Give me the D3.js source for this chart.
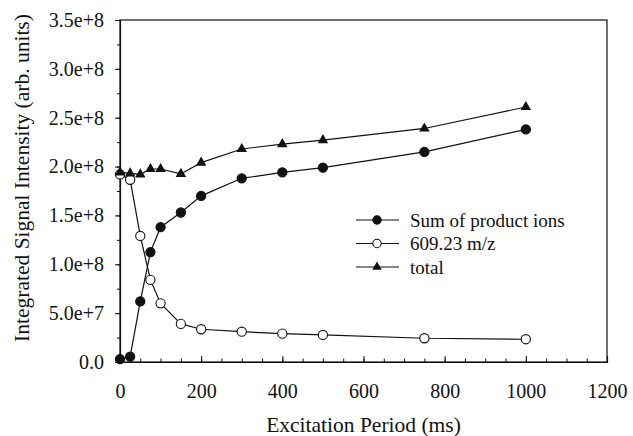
<!DOCTYPE html>
<html>
<head>
<meta charset="utf-8">
<script src="https://cdn.jsdelivr.net/npm/d3@7"></script>
<style>
  html, body { margin: 0; padding: 0; background: #fff; }
</style>
</head>
<body>
<svg id="chart" width="633" height="436"></svg>
<script>
const excitationMs = [0, 25, 50, 75, 100, 150, 200, 300, 400, 500, 750, 1000];
const sumProductIons = [3e6, 5.5e6, 6.2e7, 1.125e8, 1.38e8, 1.53e8, 1.70e8, 1.88e8, 1.94e8, 1.99e8, 2.15e8, 2.38e8];
const parent609 = [1.92e8, 1.865e8, 1.29e8, 8.4e7, 6.0e7, 3.9e7, 3.35e7, 3.1e7, 2.9e7, 2.77e7, 2.43e7, 2.33e7];
const totalSignal = [1.94e8, 1.93e8, 1.92e8, 1.975e8, 1.975e8, 1.925e8, 2.04e8, 2.18e8, 2.23e8, 2.27e8, 2.39e8, 2.61e8];
const seriesNames = ["Sum of product ions", "609.23 m/z", "total"];
const xTickValues = [0, 200, 400, 600, 800, 1000, 1200];
const yTickValues = [0, 5e7, 1e8, 1.5e8, 2e8, 2.5e8, 3e8, 3.5e8];
const yTickLabels = ["0.0", "5.0e+7", "1.0e+8", "1.5e+8", "2.0e+8", "2.5e+8", "3.0e+8", "3.5e+8"];

const FONT = "'Liberation Serif', 'DejaVu Serif', 'Times New Roman', serif";
const INK = "#111";
const svg = d3.select("#chart");
const mLeft = 120, mRight = 607, mTop = 20, mBottom = 362;
const x = d3.scaleLinear().domain([0, 1200]).range([mLeft, mRight]);
const y = d3.scaleLinear().domain([0, 3.5e8]).range([mBottom, mTop]);

// frame
svg.append("rect").attr("x", mLeft).attr("y", mTop).attr("width", mRight - mLeft).attr("height", mBottom - mTop)
  .attr("fill", "none").attr("stroke", INK).attr("stroke-width", 1.2);

// x axis: ticks inward
const xAxisMinor = d3.axisBottom(x).tickValues(d3.range(0, 1201, 50)).tickSize(-3.5).tickFormat("");
svg.append("g").attr("transform", `translate(0,${mBottom})`).call(xAxisMinor)
  .call(g => g.select(".domain").remove())
  .call(g => g.selectAll("line").attr("stroke", INK));
const xAxis = d3.axisBottom(x).tickValues(xTickValues).tickSize(-6).tickPadding(22).tickFormat(d3.format("d"));
svg.append("g").attr("transform", `translate(0,${mBottom})`).call(xAxis)
  .call(g => g.select(".domain").attr("stroke", INK).attr("stroke-width", 1.2))
  .call(g => g.selectAll("line").attr("stroke", INK))
  .call(g => g.selectAll("text").style("font-size", "20px").style("font-family", FONT).attr("fill", INK));

// y axis: ticks outward
const yAxisMinor = d3.axisLeft(y).tickValues(d3.range(0, 3.5e8 + 1, 2.5e7)).tickSize(3).tickFormat("");
svg.append("g").attr("transform", `translate(${mLeft},0)`).call(yAxisMinor)
  .call(g => g.select(".domain").remove())
  .call(g => g.selectAll("line").attr("stroke", INK));
const yAxis = d3.axisLeft(y).tickValues(yTickValues).tickSize(5).tickPadding(11)
  .tickFormat((d, i) => yTickLabels[i]);
svg.append("g").attr("transform", `translate(${mLeft},0)`).call(yAxis)
  .call(g => g.select(".domain").attr("stroke", INK).attr("stroke-width", 1.2))
  .call(g => g.selectAll("line").attr("stroke", INK))
  .call(g => g.selectAll("text").style("font-size", "20px").style("font-family", FONT).attr("fill", INK));

// axis titles
svg.append("text").attr("x", (mLeft + mRight) / 2 + 0).attr("y", 432).attr("text-anchor", "middle")
  .style("font-size", "21.5px").style("font-family", FONT).attr("fill", INK).text("Excitation Period (ms)");
svg.append("text").attr("transform", `translate(29,178) rotate(-90)`)
  .attr("text-anchor", "middle").style("font-size", "21.5px").style("font-family", FONT).attr("fill", INK)
  .text("Integrated Signal Intensity (arb. units)");

const line = d3.line().x((d, i) => x(excitationMs[i])).y(d => y(d));
const tri = d3.symbol().type(d3.symbolTriangle).size(48);

function drawSeries(vals, kind) {
  const g = svg.append("g");
  g.append("path").datum(vals).attr("d", line).attr("fill", "none").attr("stroke", INK).attr("stroke-width", 1.2);
  vals.forEach((v, i) => {
    if (kind === "tri") {
      g.append("path").attr("d", tri).attr("transform", `translate(${x(excitationMs[i])},${y(v)})`).attr("fill", INK);
    } else {
      g.append("circle").attr("cx", x(excitationMs[i])).attr("cy", y(v)).attr("r", 4.6)
        .attr("fill", kind === "filled" ? INK : "#fff").attr("stroke", INK).attr("stroke-width", 1.1);
    }
  });
}
drawSeries(sumProductIons, "filled");
drawSeries(parent609, "open");
drawSeries(totalSignal, "tri");

// legend
const kinds = ["filled", "open", "tri"];
seriesNames.forEach((name, i) => {
  const ly = 220 + i * 23.5;
  const g = svg.append("g");
  g.append("line").attr("x1", 356).attr("x2", 399).attr("y1", ly).attr("y2", ly).attr("stroke", INK).attr("stroke-width", 1.2);
  if (kinds[i] === "tri") {
    g.append("path").attr("d", d3.symbol().type(d3.symbolTriangle).size(40)).attr("transform", `translate(377,${ly})`).attr("fill", INK);
  } else {
    g.append("circle").attr("cx", 377).attr("cy", ly).attr("r", 4.2)
      .attr("fill", kinds[i] === "filled" ? INK : "#fff").attr("stroke", INK).attr("stroke-width", 1.1);
  }
  g.append("text").attr("x", 410).attr("y", ly).attr("dy", "0.35em")
    .style("font-size", "19px").style("font-family", FONT).attr("fill", INK).text(name);
});
</script>
</body>
</html>
